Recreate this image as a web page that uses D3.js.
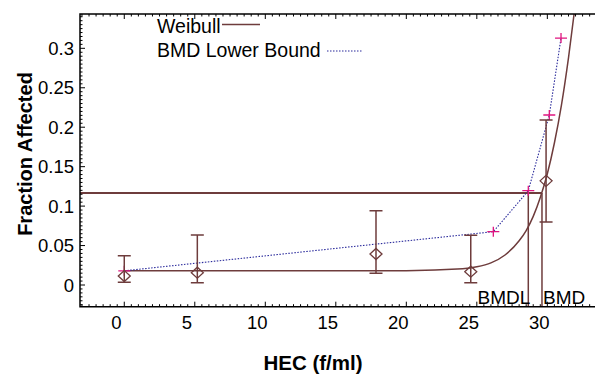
<!DOCTYPE html>
<html><head><meta charset="utf-8">
<script src="https://cdn.jsdelivr.net/npm/d3@7"></script>
<style>body{margin:0;background:#fff}svg{display:block;font-family:"Liberation Sans",Arial,sans-serif}</style>
</head><body>
<svg id="c" width="595" height="374"></svg>
<script>
// observed data
const doses = [0, 5.18, 17.85, 24.57, 29.91];
const observed = [0.0114, 0.0156, 0.0393, 0.0169, 0.132];
const errLow = [0.0034, 0.003, 0.0148, 0.003, 0.0798];
const errHigh = [0.037, 0.0634, 0.094, 0.063, 0.209];
// Weibull fitted curve
const curveDose = [0, 10, 20, 24, 25, 26, 27, 28, 28.5, 29, 29.5, 30, 30.5, 31, 31.5, 32];
const curveP = [0.018, 0.018, 0.0182, 0.0205, 0.023, 0.028, 0.038, 0.056, 0.069, 0.087, 0.111, 0.141, 0.18, 0.228, 0.288, 0.358];
// BMD lower bound line
const lbDose = [0, 26.17, 28.65, 30.14, 30.97];
const lbP = [0.018, 0.0676, 0.1195, 0.2155, 0.313];
// BMD markers
const bmr = 0.1165;
const bmdl = 28.65;
const bmd = 29.62;
const xTicks = [0, 5, 10, 15, 20, 25, 30];
const yTicks = [0, 0.05, 0.1, 0.15, 0.2, 0.25, 0.3];
const legendLabels = ["Weibull", "BMD Lower Bound"];

const brown = "#6e3c3c", blue = "#2b2b9c", pink = "#e0157f";
const L = 80, R = 595, T = 14, B = 306.7;
const x = d3.scaleLinear().domain([-3.14, 33.38]).range([L, R]);
const y = d3.scaleLinear().domain([-0.0275, 0.3435]).range([B, T]);
const svg = d3.select("#c");

svg.append("defs").append("clipPath").attr("id", "pc")
  .append("rect").attr("x", L).attr("y", T).attr("width", R - L + 5).attr("height", B - T);
const g = svg.append("g").attr("clip-path", "url(#pc)");

// BMR line and BMD/BMDL verticals
g.append("line").attr("x1", L).attr("x2", x(bmd)).attr("y1", y(bmr)).attr("y2", y(bmr))
  .attr("stroke", brown).attr("stroke-width", 2);
[bmdl, bmd].forEach(v => g.append("line").attr("x1", x(v)).attr("x2", x(v))
  .attr("y1", y(bmr)).attr("y2", B).attr("stroke", brown).attr("stroke-width", 1.5));

// Weibull curve
const curvePts = curveDose.map((d, i) => [d, curveP[i]]);
g.append("path").datum(curvePts)
  .attr("d", d3.line().x(d => x(d[0])).y(d => y(d[1])).curve(d3.curveMonotoneX))
  .attr("fill", "none").attr("stroke", brown).attr("stroke-width", 1.5);

// lower bound dotted
const lbPts = lbDose.map((d, i) => [d, lbP[i]]);
g.append("path").datum(lbPts)
  .attr("d", d3.line().x(d => x(d[0])).y(d => y(d[1])))
  .attr("fill", "none").attr("stroke", blue).attr("stroke-width", 1.1).attr("stroke-dasharray", "1.5,1.5");
lbPts.forEach(p => {
  const cx = x(p[0]), cy = y(p[1]);
  g.append("path").attr("d", `M${cx-6},${cy}H${cx+6}M${cx},${cy-5}V${cy+5}`)
    .attr("stroke", pink).attr("stroke-width", 1.3).attr("fill", "none");
});

// error bars and diamonds
doses.forEach((d, i) => {
  const cx = x(d);
  g.append("path").attr("d", `M${cx},${y(errLow[i])}V${y(errHigh[i])}M${cx-6.5},${y(errLow[i])}H${cx+6.5}M${cx-6.5},${y(errHigh[i])}H${cx+6.5}`)
    .attr("stroke", brown).attr("stroke-width", 1.5).attr("fill", "none");
  const cy = y(observed[i]);
  g.append("path").attr("d", `M${cx-6},${cy}L${cx},${cy-5.5}L${cx+6},${cy}L${cx},${cy+5.5}Z`)
    .attr("stroke", brown).attr("stroke-width", 1.3).attr("fill", "none");
});

// BMDL/BMD labels
svg.append("text").attr("x", x(bmdl) + 2).attr("y", 304).attr("text-anchor", "end")
  .attr("font-size", 19).text("BMDL");
svg.append("text").attr("x", x(bmd) + 1).attr("y", 304).attr("text-anchor", "start")
  .attr("font-size", 19).text("BMD");

// axes frame
const ax = svg.append("g").attr("stroke", "#000").attr("fill", "none");
ax.append("path").attr("d", `M${R+2},${T}H${L}V${B}H${R+2}`).attr("stroke-width", 1.5);
const xMinor = d3.range(-3, 33.5, 0.5);
xMinor.forEach(v => {
  const major = Math.abs(v % 5) < 1e-9;
  const len = major ? 5 : 2.5;
  ax.append("line").attr("x1", x(v)).attr("x2", x(v)).attr("y1", B).attr("y2", B - len).attr("stroke-width", 1);
  ax.append("line").attr("x1", x(v)).attr("x2", x(v)).attr("y1", T).attr("y2", T + len).attr("stroke-width", 1);
});
const yMinor = d3.range(-0.025, 0.345, 0.005);
yMinor.forEach(v => {
  const major = Math.abs(Math.round(v / 0.005) % 10) === 0;
  const len = major ? 5 : 2.5;
  ax.append("line").attr("x1", L).attr("x2", L + len).attr("y1", y(v)).attr("y2", y(v)).attr("stroke-width", 1);
});
xTicks.forEach(v => svg.append("text").attr("x", x(v) - 8).attr("y", 329).attr("text-anchor", "middle")
  .attr("font-size", 18.5).text(v));
yTicks.forEach(v => svg.append("text").attr("x", 74).attr("y", y(v)).attr("dy", "0.36em").attr("text-anchor", "end")
  .attr("font-size", 18.5).text(v));

// titles
svg.append("text").attr("x", 313).attr("y", 370).attr("text-anchor", "middle")
  .attr("font-size", 20.5).attr("font-weight", "bold").text("HEC (f/ml)");
svg.append("text").attr("transform", "translate(32,154) rotate(-90)").attr("text-anchor", "middle")
  .attr("font-size", 20).attr("font-weight", "bold").text("Fraction Affected");

// legend
svg.append("text").attr("x", 157).attr("y", 33).attr("font-size", 19.5).text(legendLabels[0]);
svg.append("line").attr("x1", 222).attr("x2", 260).attr("y1", 24.5).attr("y2", 24.5)
  .attr("stroke", brown).attr("stroke-width", 1.5);
svg.append("text").attr("x", 157).attr("y", 57).attr("font-size", 19.5).text(legendLabels[1]);
svg.append("line").attr("x1", 327).attr("x2", 363).attr("y1", 51).attr("y2", 51)
  .attr("stroke", blue).attr("stroke-width", 1.1).attr("stroke-dasharray", "1.5,1.5");
</script>
</body></html>
